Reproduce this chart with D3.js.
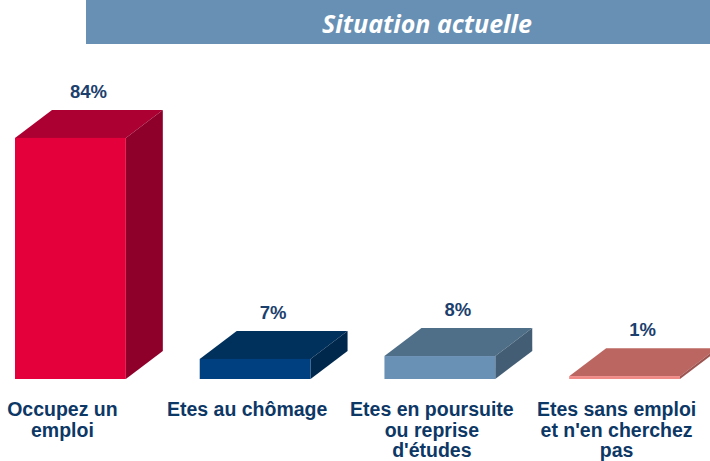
<!DOCTYPE html>
<html>
<head>
<meta charset="utf-8">
<script src="https://cdn.jsdelivr.net/npm/d3@7"></script>
<style>
  body { margin: 0; background: #fff; }
  svg { display: block; }
</style>
</head>
<body>
<svg id="chart"></svg>
<script>
// values
const categories = ["Occupez un emploi", "Etes au chômage", "Etes en poursuite ou reprise d'études", "Etes sans emploi et n'en cherchez pas"];
const labelLines = [["Occupez un", "emploi"], ["Etes au chômage"], ["Etes en poursuite", "ou reprise", "d'études"], ["Etes sans emploi", "et n'en cherchez", "pas"]];
const values = [84, 7, 8, 1];
const valueLabels = ["84%", "7%", "8%", "1%"];
const frontColors = ["#e4003b", "#004080", "#6990b5", "#f08a86"];
const topColors = ["#ad0032", "#00305c", "#4f6e87", "#bb6661"];
const sideColors = ["#8e002a", "#00284c", "#435e74", "#9c5450"];

const width = 710, height = 461;
const baseline = 379;
const depthX = 37, depthY = -28;

const svg = d3.select("#chart").attr("width", width).attr("height", height);

// title band
svg.append("rect")
  .attr("x", 86).attr("y", 0)
  .attr("width", width - 86).attr("height", 44)
  .attr("fill", "#6790b4");
svg.append("text")
  .attr("x", 427).attr("y", 33)
  .attr("text-anchor", "middle")
  .attr("fill", "#fff")
  .style("font-family", "'Open Sans', Lato, sans-serif")
  .style("font-weight", "bold")
  .style("font-style", "italic")
  .style("font-size", "25px")
  .text("Situation actuelle");

const x = d3.scaleBand()
  .domain(categories)
  .range([15, 680])
  .paddingInner(0.4)
  .paddingOuter(0);

const y = d3.scaleLinear()
  .domain([0, 100])
  .range([baseline, baseline - 287]);

const data = categories.map((c, i) => ({ cat: c, v: values[i], i: i }));

const bars = svg.append("g").selectAll("g")
  .data(data)
  .join("g");

// top face
bars.append("path")
  .attr("fill", d => topColors[d.i])
  .attr("d", d => {
    const x0 = x(d.cat), x1 = x0 + x.bandwidth(), yt = y(d.v);
    return `M${x0},${yt}L${x0 + depthX},${yt + depthY}L${x1 + depthX},${yt + depthY}L${x1},${yt}Z`;
  });

// side face
bars.append("path")
  .attr("fill", d => sideColors[d.i])
  .attr("d", d => {
    const x1 = x(d.cat) + x.bandwidth(), yt = y(d.v);
    return `M${x1},${yt}L${x1 + depthX},${yt + depthY}L${x1 + depthX},${baseline + depthY}L${x1},${baseline}Z`;
  });

// front face
bars.append("rect")
  .attr("fill", d => frontColors[d.i])
  .attr("x", d => x(d.cat))
  .attr("y", d => y(d.v))
  .attr("width", x.bandwidth())
  .attr("height", d => baseline - y(d.v));

// value labels
bars.append("text")
  .attr("x", d => x(d.cat) + x.bandwidth() / 2 + 18)
  .attr("y", d => y(d.v) + depthY - 12)
  .attr("text-anchor", "middle")
  .attr("fill", "#1c3f6e")
  .style("font-family", "'Liberation Sans', Arial, sans-serif")
  .style("font-weight", "bold")
  .style("font-size", "18.5px")
  .text(d => valueLabels[d.i]);

// category labels
const catText = svg.append("g").selectAll("text")
  .data(data)
  .join("text")
  .attr("y", 416)
  .attr("text-anchor", "middle")
  .attr("fill", "#0d3866")
  .style("font-family", "'Liberation Sans', Arial, sans-serif")
  .style("font-weight", "bold")
  .style("font-size", "19.5px");

catText.selectAll("tspan")
  .data(d => labelLines[d.i].map(t => ({ t: t, x: x(d.cat) + x.bandwidth() / 2 - 8 })))
  .join("tspan")
  .attr("x", d => d.x)
  .attr("dy", (d, j) => j === 0 ? 0 : 20.5)
  .text(d => d.t);
</script>
</body>
</html>
